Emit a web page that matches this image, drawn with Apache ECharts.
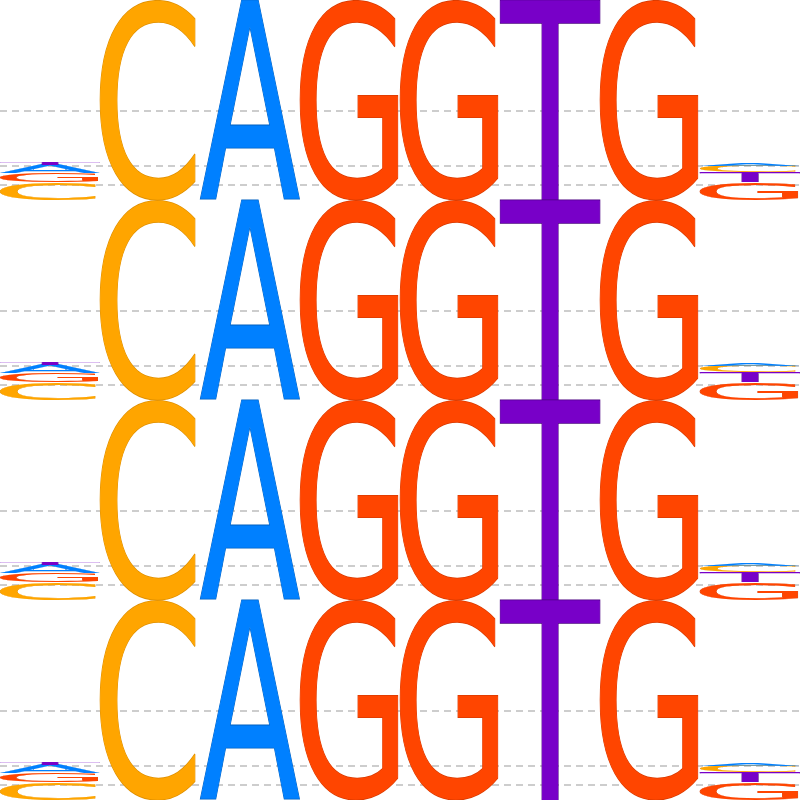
<!DOCTYPE html>
<html><head><meta charset="utf-8">
<script src="https://cdn.jsdelivr.net/npm/echarts@6/dist/echarts.min.js"></script>
<style>html,body{margin:0;padding:0;background:#fff}#c{width:800px;height:800px}</style>
</head><body><div id="c"></div>
<script>
// ---- data ----
const bases = ['A', 'C', 'G', 'T'];
const positions = [0, 1, 2, 3, 4, 5, 6, 7];
const heightA = [0.085, 0, 2.0, 0, 0, 0, 0, 0.03];
const heightC = [0.18, 2.0, 0, 0, 0, 0, 0, 0.06];
const heightG = [0.09, 0, 0, 2.0, 2.0, 0, 2.0, 0.18];
const heightT = [0.02, 0, 0, 0, 0, 2.0, 0, 0.10];
const gridValues = [0.89, 0.34, 0.15];
const panels = [0, 1, 2, 3];

// ---- style ----
const colors = { A: '#0080FF', C: '#FFA500', G: '#FF4500', T: '#7800C8' };
const strokes = { A: '#0060c0', C: '#e09000', G: '#d83a00', T: '#4a0080' };
const widthFrac = { A: 1, C: 0.95, G: 0.98, T: 1 };
const FONT = '200px "DejaVu Sans"';

const heights = { A: heightA, C: heightC, G: heightG, T: heightT };

// measure glyph ink boxes
const cv = document.createElement('canvas');
const ctx = cv.getContext('2d');
ctx.font = FONT; ctx.textAlign = 'left'; ctx.textBaseline = 'middle';
const metrics = {};
bases.forEach(b => {
  const m = ctx.measureText(b);
  metrics[b] = { l: m.actualBoundingBoxLeft, r: m.actualBoundingBoxRight, a: m.actualBoundingBoxAscent, d: m.actualBoundingBoxDescent };
});

// stacked data: [pos, y0, y1, baseIndex]
const stacked = [];
positions.forEach(p => {
  const items = bases.map((b, i) => ({ b, i, h: heights[b][p] })).filter(o => o.h > 0);
  items.sort((u, v) => v.h - u.h);
  let y = 0;
  items.forEach(o => { stacked.push([p, y, y + o.h, o.i]); y += o.h; });
});

function renderLetter(params, api) {
  const pos = api.value(0), y0 = api.value(1), y1 = api.value(2), li = api.value(3);
  const b = bases[li];
  const p0 = api.coord([pos - 0.5, y1]);
  const p1 = api.coord([pos + 0.5, y0]);
  const W = (p1[0] - p0[0]) * widthFrac[b];
  const H = p1[1] - p0[1];
  const m = metrics[b];
  const sx = W / (m.l + m.r), sy = H / (m.a + m.d);
  return {
    type: 'text',
    x: p0[0] + sx * m.l,
    y: p0[1] + sy * m.a,
    scaleX: sx, scaleY: sy,
    style: { text: b, font: FONT, fill: colors[b], stroke: strokes[b], lineWidth: 1.2,
      textAlign: 'left', textVerticalAlign: 'middle', align: 'left', verticalAlign: 'middle' }
  };
}

function renderGrid(params, api) {
  const v = api.value(0);
  const a = api.coord([-0.5, v]);
  const c = api.coord([7.5, v]);
  const yy = Math.round(a[1]);
  return { type: 'line', shape: { x1: a[0], y1: yy, x2: c[0], y2: yy }, style: { stroke: '#bdbdbd', lineWidth: 1.5, lineDash: [7, 5] } };
}

const grid = [], xAxis = [], yAxis = [], series = [];
panels.forEach(k => {
  grid.push({ left: 0, right: 0, top: 200 * k, height: 200 });
  xAxis.push({ gridIndex: k, type: 'value', min: -0.5, max: 7.5, show: false });
  yAxis.push({ gridIndex: k, type: 'value', min: 0, max: 2, show: false });
  series.push({ type: 'custom', xAxisIndex: k, yAxisIndex: k, z: 1, silent: true, clip: false,
    renderItem: renderGrid, data: gridValues.map(v => [v]) });
  series.push({ type: 'custom', xAxisIndex: k, yAxisIndex: k, z: 2, silent: true, clip: false,
    renderItem: renderLetter, data: stacked });
});

const chart = echarts.init(document.getElementById('c'), null, { renderer: 'canvas' });
chart.setOption({ animation: false, backgroundColor: '#fff', grid, xAxis, yAxis, series });
</script>
</body></html>
